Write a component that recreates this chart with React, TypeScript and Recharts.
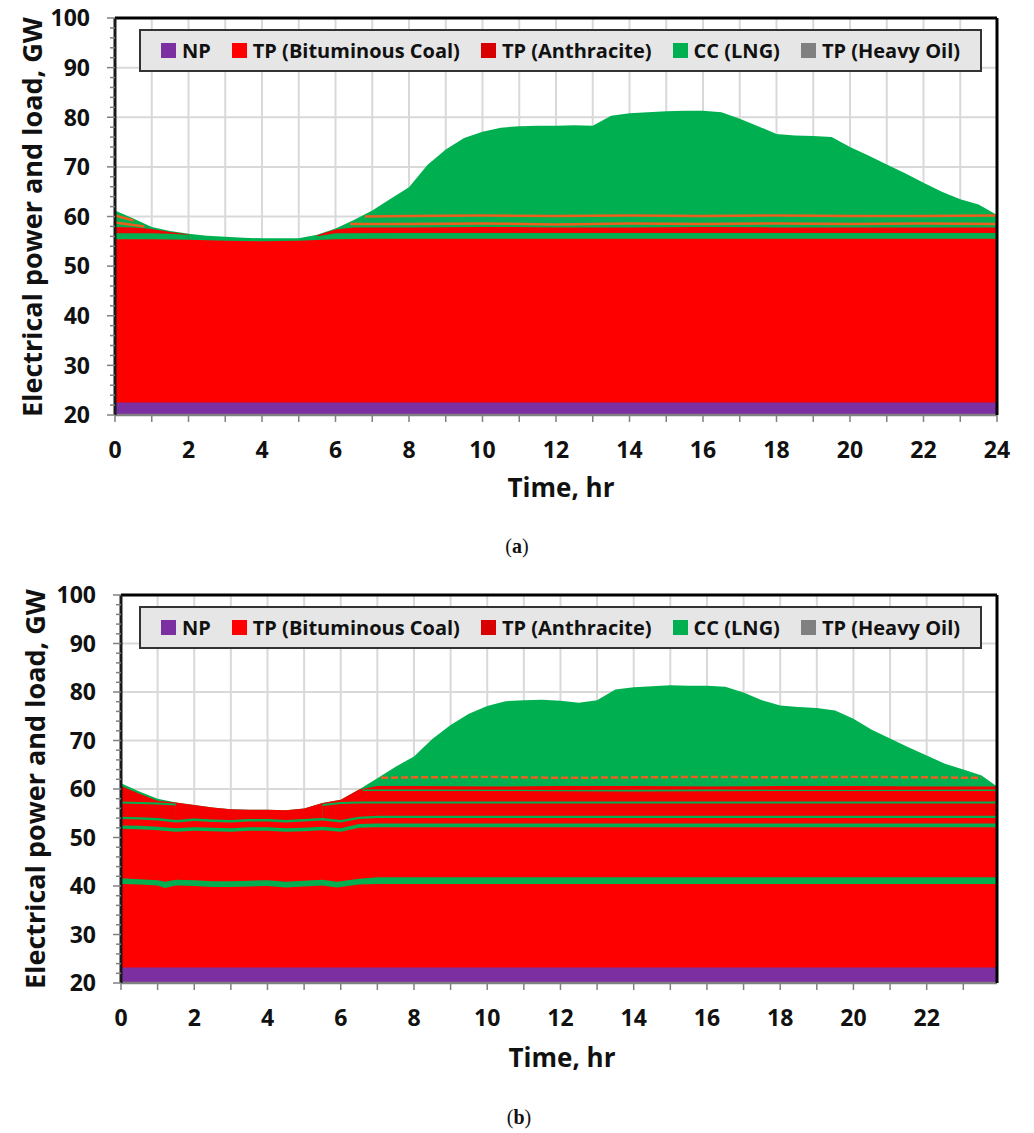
import React from 'react';
import { ComposedChart, Area, Line, XAxis, YAxis, CartesianGrid, Legend } from 'recharts';

type Pt = [number, number | null];

// legend entries
const LEGEND_NAMES = ['NP', 'TP (Bituminous Coal)', 'TP (Anthracite)', 'CC (LNG)', 'TP (Heavy Oil)'];
const LEGEND_COLORS = ['#7b2fa1', '#ff0000', '#d80000', '#00b050', '#808080'];

const NP_COLOR = '#7b2fa1';
const COAL_COLOR = '#ff0000';
const ANTH_COLOR = '#f50000';
const LNG_COLOR = '#00b050';
const OIL_LINE = '#ee5f1e';

// axes
const Y_TICKS = [20, 22, 24, 26, 28, 30, 32, 34, 36, 38, 40, 42, 44, 46, 48, 50, 52, 54, 56, 58, 60, 62, 64, 66, 68, 70, 72, 74, 76, 78, 80, 82, 84, 86, 88, 90, 92, 94, 96, 98, 100];
const Y_GRID = [20, 30, 40, 50, 60, 70, 80, 90, 100];
const X_TICKS_A = [0, 1, 2, 3, 4, 5, 6, 7, 8, 9, 10, 11, 12, 13, 14, 15, 16, 17, 18, 19, 20, 21, 22, 23, 24];
const X_TICKS_B = [0, 1, 2, 3, 4, 5, 6, 7, 8, 9, 10, 11, 12, 13, 14, 15, 16, 17, 18, 19, 20, 21, 22, 23];

// ---------- (a) ----------
// total load (top of the CC (LNG) area), [hour, GW]
const LOAD_A: Pt[] = [
  [0, 61.2], [0.5, 59.6], [1, 57.9], [1.5, 57.1], [2, 56.5], [2.5, 56.1], [3, 55.9], [3.5, 55.7],
  [4, 55.6], [4.5, 55.6], [5, 55.6], [5.5, 56.3], [6, 57.6], [6.5, 59.3], [7, 61.2], [7.5, 63.6],
  [8, 65.9], [8.5, 70.4], [9, 73.5], [9.5, 75.8], [10, 77.1], [10.5, 77.9], [11, 78.2], [11.5, 78.3],
  [12, 78.3], [12.5, 78.4], [13, 78.3], [13.5, 80.3], [14, 80.8], [14.5, 81.0], [15, 81.2], [15.5, 81.3],
  [16, 81.3], [16.5, 81.0], [17, 79.7], [17.5, 78.2], [18, 76.6], [18.5, 76.3], [19, 76.2], [19.5, 76.0],
  [20, 74.0], [20.5, 72.3], [21, 70.5], [21.5, 68.7], [22, 66.8], [22.5, 65.0], [23, 63.5], [23.5, 62.4],
  [24, 60.3],
];
const ORANGE1_A: Pt[] = [
  [0, 60.2], [0.5, 59.2], [3, null], [6.8, 60.0], [8, 60.1], [10, 60.2], [12, 60.1], [14, 60.2],
  [16, 60.1], [18, 60.2], [20, 60.1], [22, 60.1], [24, 60.2],
];
const ORANGE2_A: Pt[] = [
  [0, 58.8], [0.8, 58.0], [3, null], [6.4, 58.5], [8, 58.5], [10, 58.6], [12, 58.4], [14, 58.6],
  [16, 58.5], [18, 58.6], [20, 58.5], [22, 58.6], [24, 58.5],
];
const ANTH_A: Pt[] = [
  [0, 57.9], [0.5, 57.8], [1, 57.5], [1.5, 56.9], [2, 56.4], [3, null], [5.5, 56.2], [6, 57.4],
  [6.5, 57.8], [8, 57.8], [10, 57.9], [12, 57.8], [14, 57.8], [16, 57.9], [18, 57.8], [20, 57.8],
  [22, 57.8], [24, 57.8],
];
const LNG_BASE_A: Pt[] = [
  [0, 56.6], [1, 56.6], [1.5, 56.5], [2, 56.3], [3, null], [5.5, 56.0], [6, 56.6], [8, 56.7],
  [12, 56.7], [16, 56.7], [20, 56.7], [24, 56.7],
];
const COAL_A: Pt[] = [
  [0, 55.4], [1, 55.4], [2, 55.3], [3, 55.1], [4, 55.0], [5, 55.1], [6, 55.4], [7, 55.5], [24, 55.5],
];
const NP_A: Pt[] = [[0, 22.5], [24, 22.5]];

// ---------- (b) ----------
const LOAD_B: Pt[] = [
  [0, 61.2], [0.5, 59.5], [1, 58.0], [1.5, 57.2], [2, 56.7], [2.5, 56.2], [3, 55.8], [3.5, 55.7],
  [4, 55.7], [4.5, 55.6], [5, 56.0], [5.5, 57.1], [6, 57.8], [6.5, 59.9], [7, 62.2], [7.5, 64.6],
  [8, 66.7], [8.5, 70.3], [9, 73.2], [9.5, 75.5], [10, 77.1], [10.5, 78.1], [11, 78.3], [11.5, 78.4],
  [12, 78.2], [12.5, 77.8], [13, 78.3], [13.5, 80.5], [14, 81.0], [14.5, 81.2], [15, 81.4], [15.5, 81.3],
  [16, 81.3], [16.5, 81.1], [17, 79.9], [17.5, 78.3], [18, 77.2], [18.5, 76.9], [19, 76.7], [19.5, 76.2],
  [20, 74.5], [20.5, 72.2], [21, 70.4], [21.5, 68.6], [22, 66.9], [22.5, 65.2], [23, 64.0], [23.5, 62.8],
  [23.92, 60.5],
];
const ORANGE_B: Pt[] = [
  [7.1, 62.3], [8, 62.4], [10, 62.5], [12, 62.3], [14, 62.4], [16, 62.5], [18, 62.4], [20, 62.5],
  [22, 62.4], [23.5, 62.3],
];
const ANTH_TOP_B: Pt[] = [
  [0, 60.6], [0.5, 59.0], [1, 57.6], [1.5, 57.2], [2, 56.7], [2.5, 56.2], [3, 55.8], [3.5, 55.7],
  [4, 55.7], [4.5, 55.6], [5, 56.0], [5.5, 57.1], [6, 57.8], [6.5, 59.9], [7, 60.6], [8, 60.6],
  [10, 60.5], [12, 60.6], [14, 60.6], [16, 60.5], [18, 60.6], [20, 60.6], [22, 60.5], [23.92, 60.5],
];
const LNG3_B: Pt[] = [[6.6, 59.9], [8, 59.9], [12, 59.8], [16, 59.9], [20, 59.8], [23.92, 59.9]];
const ANTH3_B: Pt[] = [[6.5, 59.6], [10, 59.6], [14, 59.5], [18, 59.6], [23.92, 59.6]];
const LNG2_B: Pt[] = [
  [0, 57.4], [0.5, 57.3], [1, 57.2], [1.5, 57.0], [3, null], [5.5, 56.9], [6, 57.3], [6.5, 57.4],
  [10, 57.4], [14, 57.4], [18, 57.4], [23.92, 57.4],
];
const ANTH2_B: Pt[] = [
  [0, 57.0], [0.5, 56.9], [1, 56.8], [1.5, 56.6], [3, null], [5.5, 56.5], [6, 56.9], [6.5, 57.0],
  [23.92, 57.0],
];
const LNG1_B: Pt[] = [
  [0, 54.3], [0.5, 54.2], [1, 54.0], [1.5, 53.6], [2, 53.9], [2.5, 53.7], [3, 53.6], [3.5, 53.8],
  [4, 53.8], [4.5, 53.6], [5, 53.8], [5.5, 54.0], [6, 53.6], [6.5, 54.3], [7, 54.5], [23.92, 54.5],
];
const COAL3_B: Pt[] = [
  [0, 53.8], [0.5, 53.7], [1, 53.5], [1.5, 53.1], [2, 53.4], [2.5, 53.2], [3, 53.1], [3.5, 53.3],
  [4, 53.3], [4.5, 53.1], [5, 53.3], [5.5, 53.5], [6, 53.1], [6.5, 53.8], [7, 54.0], [23.92, 54.0],
];
const LNG0_B: Pt[] = [
  [0, 52.5], [0.5, 52.4], [1, 52.2], [1.5, 51.9], [2, 52.1], [2.5, 52.0], [3, 51.9], [3.5, 52.1],
  [4, 52.1], [4.5, 51.9], [5, 52.0], [5.5, 52.2], [6, 51.9], [6.5, 52.8], [7, 52.9], [23.92, 52.9],
];
const COAL2_B: Pt[] = [
  [0, 51.8], [0.5, 51.7], [1, 51.5], [1.5, 51.2], [2, 51.4], [2.5, 51.3], [3, 51.2], [3.5, 51.4],
  [4, 51.4], [4.5, 51.2], [5, 51.3], [5.5, 51.5], [6, 51.2], [6.5, 52.0], [7, 52.1], [23.92, 52.1],
];
const LNG41_B: Pt[] = [
  [0, 41.6], [0.5, 41.4], [1, 41.2], [1.2, 40.9], [1.5, 41.3], [2, 41.2], [2.5, 41.0], [3, 41.0],
  [3.5, 41.1], [4, 41.2], [4.5, 40.9], [5, 41.1], [5.5, 41.3], [5.9, 40.9], [6.5, 41.5], [7, 41.8],
  [23.92, 41.8],
];
const COAL1_B: Pt[] = [
  [0, 40.4], [0.5, 40.3], [1, 40.1], [1.2, 39.6], [1.5, 40.1], [2, 40.0], [2.5, 39.8], [3, 39.8],
  [3.5, 39.9], [4, 40.0], [4.5, 39.7], [5, 39.9], [5.5, 40.1], [5.9, 39.7], [6.5, 40.3], [7, 40.4],
  [23.92, 40.4],
];
const NP_B: Pt[] = [[0, 23.2], [23.92, 23.2]];

const rows = (pts: Pt[]) => pts.map(([t, v]) => ({ t, v }));

const FONT = "'Open Sans', 'Liberation Sans', sans-serif";
const TICK_FONT_SIZE = 23;
const Y_TICK_SIZE = 8;
const Y_TICK_MARGIN = 17;
const X_TICK_SIZE = 7;
const X_TICK_MARGIN = 20;

const YTick = (props: any) => {
  const { x, y, payload } = props;
  const axisX = x + Y_TICK_SIZE + Y_TICK_MARGIN;
  const major = payload.value % 10 === 0;
  return (
    <g>
      <line x1={axisX} x2={axisX - (major ? 8 : 5)} y1={y} y2={y} stroke="#808080" strokeWidth={1.5} />
      {major && (
        <text x={x} y={y} dy="0.36em" textAnchor="end" fontFamily={FONT} fontWeight={700} fontSize={TICK_FONT_SIZE} fill="#111">
          {payload.value}
        </text>
      )}
    </g>
  );
};

const makeXTick = (maxLabel: number) => (props: any) => {
  const { x, y, payload } = props;
  const axisY = y - X_TICK_SIZE - X_TICK_MARGIN;
  const v = payload.value;
  const labelled = v % 2 === 0 && v <= maxLabel;
  return (
    <g>
      <line x1={x} x2={x} y1={axisY} y2={axisY + X_TICK_SIZE} stroke="#808080" strokeWidth={1.5} />
      {labelled && (
        <text x={x} y={y} dy="0.71em" textAnchor="middle" fontFamily={FONT} fontWeight={700} fontSize={TICK_FONT_SIZE} fill="#111">
          {v}
        </text>
      )}
    </g>
  );
};

function LegendBox() {
  return (
    <div
      style={{
        boxSizing: 'border-box',
        width: '100%',
        height: '100%',
        background: '#e6e6e6',
        border: '2px solid #333',
        display: 'flex',
        alignItems: 'center',
        justifyContent: 'center',
        gap: 21,
        fontFamily: FONT,
        fontWeight: 700,
        fontSize: 20,
        color: '#111',
      }}
    >
      {LEGEND_NAMES.map((n, i) => (
        <div key={n} style={{ display: 'flex', alignItems: 'center', whiteSpace: 'nowrap' }}>
          <span style={{ display: 'inline-block', width: 15, height: 15, background: LEGEND_COLORS[i], marginRight: 6 }} />
          {n}
        </div>
      ))}
    </div>
  );
}

interface Layer { key: string; name: string; color: string; pts: Pt[] }
interface Stroke { key: string; pts: Pt[]; dash?: string }

interface PanelProps {
  height: number;
  marginTop: number;
  marginLeft: number;
  xMax: number;
  xTicks: number[];
  maxLabel: number;
  layers: Layer[];
  strokes: Stroke[];
  legendTop: number;
}

function Panel({ height, marginTop, marginLeft, xMax, xTicks, maxLabel, layers, strokes, legendTop }: PanelProps) {
  return (
    <ComposedChart width={1034} height={height} margin={{ top: marginTop, right: 36, bottom: 0, left: marginLeft }}>
      <CartesianGrid stroke="#d9d9d9" strokeWidth={2} horizontalValues={Y_GRID} />
      <XAxis
        dataKey="t"
        type="number"
        domain={[0, xMax]}
        ticks={xTicks}
        interval={0}
        allowDataOverflow
        tick={makeXTick(maxLabel)}
        tickLine={false}
        tickSize={X_TICK_SIZE}
        tickMargin={X_TICK_MARGIN}
        axisLine={{ stroke: '#808080', strokeWidth: 2.5 }}
        height={50}
      />
      <XAxis
        xAxisId="top"
        orientation="top"
        type="number"
        domain={[0, xMax]}
        height={1}
        tick={false}
        tickLine={false}
        axisLine={{ stroke: '#000', strokeWidth: 3 }}
      />
      <YAxis
        type="number"
        domain={[20, 100]}
        ticks={Y_TICKS}
        interval={0}
        allowDataOverflow
        tick={YTick}
        tickLine={false}
        tickSize={Y_TICK_SIZE}
        tickMargin={Y_TICK_MARGIN}
        axisLine={{ stroke: '#1a1a1a', strokeWidth: 3 }}
        width={75}
      />
      <YAxis
        yAxisId="right"
        orientation="right"
        type="number"
        domain={[20, 100]}
        width={1}
        tick={false}
        tickLine={false}
        axisLine={{ stroke: '#000', strokeWidth: 3 }}
      />
      {layers.map((l) => (
        <Area
          key={l.key}
          name={l.name}
          data={rows(l.pts)}
          dataKey="v"
          type="linear"
          baseValue={20}
          fill={l.color}
          fillOpacity={1}
          stroke="none"
          dot={false}
          activeDot={false}
          legendType="none"
          isAnimationActive={false}
        />
      ))}
      {strokes.map((s) => (
        <Line
          key={s.key}
          data={rows(s.pts)}
          dataKey="v"
          type="linear"
          stroke={OIL_LINE}
          strokeWidth={2.5}
          strokeDasharray={s.dash}
          dot={false}
          activeDot={false}
          legendType="none"
          isAnimationActive={false}
        />
      ))}
      <Legend
        verticalAlign="middle"
        align="center"
        layout="horizontal"
        wrapperStyle={{ left: 139, top: legendTop, width: 843, height: 43 }}
        content={() => <LegendBox />}
      />
    </ComposedChart>
  );
}

const LAYERS_A: Layer[] = [
  { key: 'lngPeak', name: 'CC (LNG)', color: LNG_COLOR, pts: LOAD_A },
  { key: 'anth', name: 'TP (Anthracite)', color: ANTH_COLOR, pts: ANTH_A },
  { key: 'lngBase', name: 'CC (LNG)', color: LNG_COLOR, pts: LNG_BASE_A },
  { key: 'coal', name: 'TP (Bituminous Coal)', color: COAL_COLOR, pts: COAL_A },
  { key: 'np', name: 'NP', color: NP_COLOR, pts: NP_A },
];
const STROKES_A: Stroke[] = [
  { key: 'o1', pts: ORANGE1_A },
  { key: 'o2', pts: ORANGE2_A },
];

const LAYERS_B: Layer[] = [
  { key: 'lngPeak', name: 'CC (LNG)', color: LNG_COLOR, pts: LOAD_B },
  { key: 'anthTop', name: 'TP (Anthracite)', color: ANTH_COLOR, pts: ANTH_TOP_B },
  { key: 'lng3', name: 'CC (LNG)', color: LNG_COLOR, pts: LNG3_B },
  { key: 'anth3', name: 'TP (Anthracite)', color: ANTH_COLOR, pts: ANTH3_B },
  { key: 'lng2', name: 'CC (LNG)', color: LNG_COLOR, pts: LNG2_B },
  { key: 'anth2', name: 'TP (Anthracite)', color: ANTH_COLOR, pts: ANTH2_B },
  { key: 'lng1', name: 'CC (LNG)', color: LNG_COLOR, pts: LNG1_B },
  { key: 'coal3', name: 'TP (Bituminous Coal)', color: COAL_COLOR, pts: COAL3_B },
  { key: 'lng0', name: 'CC (LNG)', color: LNG_COLOR, pts: LNG0_B },
  { key: 'coal2', name: 'TP (Bituminous Coal)', color: COAL_COLOR, pts: COAL2_B },
  { key: 'lng41', name: 'CC (LNG)', color: LNG_COLOR, pts: LNG41_B },
  { key: 'coal1', name: 'TP (Bituminous Coal)', color: COAL_COLOR, pts: COAL1_B },
  { key: 'np', name: 'NP', color: NP_COLOR, pts: NP_B },
];
const STROKES_B: Stroke[] = [{ key: 'o1', pts: ORANGE_B, dash: '7 3' }];

const titleStyle: React.CSSProperties = {
  position: 'absolute',
  fontFamily: FONT,
  fontWeight: 700,
  fontSize: 26,
  color: '#111',
  whiteSpace: 'nowrap',
  transform: 'translate(-50%, -50%)',
  lineHeight: 1,
};
const yTitleStyle: React.CSSProperties = { ...titleStyle, fontSize: 27, transform: 'translate(-50%, -50%) rotate(-90deg)' };
const captionStyle: React.CSSProperties = {
  position: 'absolute',
  fontFamily: "'Liberation Serif', 'DejaVu Serif', serif",
  fontSize: 20,
  color: '#111',
  transform: 'translate(-50%, -50%)',
  lineHeight: 1,
};

export default function App() {
  return (
    <div style={{ position: 'absolute', left: 0, top: 0, width: 1034, height: 1133, background: '#fff' }}>
      <div style={{ position: 'absolute', left: 0, top: 0 }}>
        <Panel height={465} marginTop={17} marginLeft={40} xMax={24} xTicks={X_TICKS_A} maxLabel={24}
          layers={LAYERS_A} strokes={STROKES_A} legendTop={29} />
      </div>
      <div style={{ ...yTitleStyle, left: 31, top: 217 }}>Electrical power and load, GW</div>
      <div style={{ ...titleStyle, left: 561, top: 487 }}>Time, hr</div>
      <div style={{ ...captionStyle, left: 517, top: 546 }}>(<b>a</b>)</div>

      <div style={{ position: 'absolute', left: 0, top: 575 }}>
        <Panel height={458} marginTop={19} marginLeft={46} xMax={23.92} xTicks={X_TICKS_B} maxLabel={22}
          layers={LAYERS_B} strokes={STROKES_B} legendTop={31} />
      </div>
      <div style={{ ...yTitleStyle, left: 34, top: 789 }}>Electrical power and load, GW</div>
      <div style={{ ...titleStyle, left: 562, top: 1057 }}>Time, hr</div>
      <div style={{ ...captionStyle, left: 519, top: 1117 }}>(<b>b</b>)</div>
    </div>
  );
}
